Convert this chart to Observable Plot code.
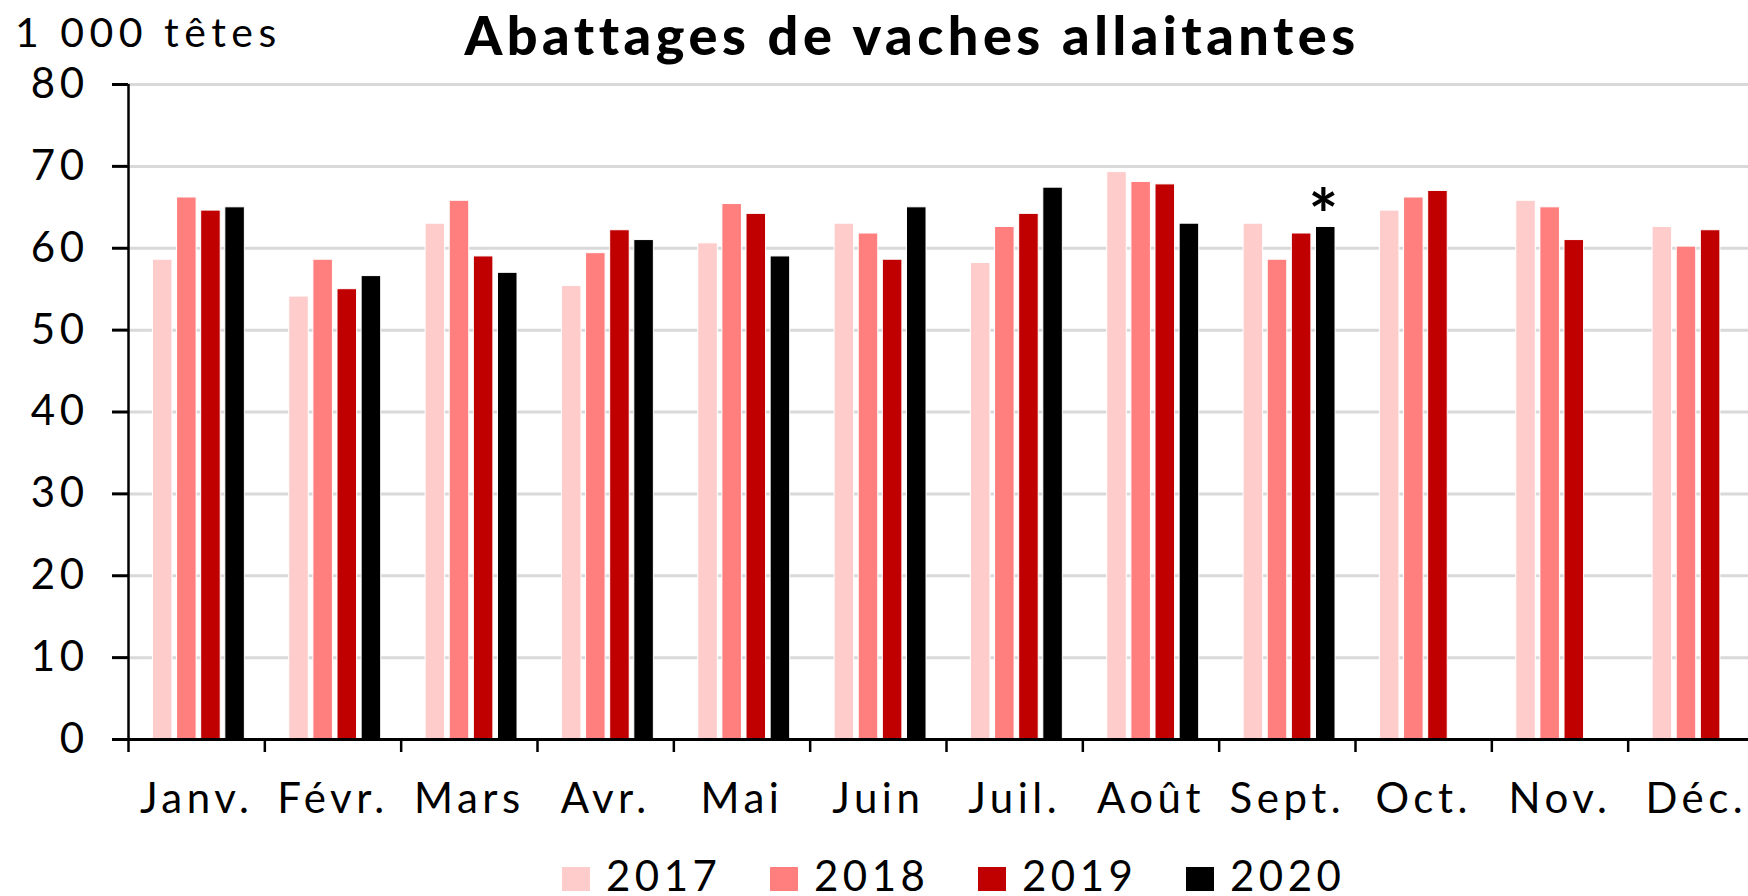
<!DOCTYPE html>
<html><head><meta charset="utf-8">
<script src="https://cdn.jsdelivr.net/npm/d3@7"></script>
<script src="https://cdn.jsdelivr.net/npm/@observablehq/plot@0.6"></script>
<style>
html,body{margin:0;padding:0;background:#fff;overflow:hidden;}
#chart svg text{letter-spacing:4.5px;}
#chart svg text.title{letter-spacing:4.5px;}
</style></head><body><div id="chart"></div>
<script>
// ---- data ----
const months = ["Janv.","Févr.","Mars","Avr.","Mai","Juin","Juil.","Août","Sept.","Oct.","Nov.","Déc."];
const years = ["2017","2018","2019","2020"];
const v2017 = [58.6,54.1,63.0,55.4,60.6,63.0,58.2,69.3,63.0,64.6,65.8,62.6];
const v2018 = [66.2,58.6,65.8,59.4,65.4,61.8,62.6,68.1,58.6,66.2,65.0,60.2];
const v2019 = [64.6,55.0,59.0,62.2,64.2,58.6,64.2,67.8,61.8,67.0,61.0,62.2];
const v2020 = [65.0,56.6,57.0,61.0,59.0,65.0,67.4,63.0,62.6];
const yTicks = [0,10,20,30,40,50,60,70,80];
const colors = ["#FFCCCC","#FF7F7F","#C00000","#000000"];
const titleText = "Abattages de vaches allaitantes";
const unitText = "1 000 têtes";
const noteText = "*";

const series = [v2017, v2018, v2019, v2020];
const rows = months.flatMap((m, i) => years.map((y, j) => ({month: m, mi: i, year: y, value: series[j][i]})))
  .filter(d => d.value != null);
const lastYear = years[years.length - 1];
const noteRows = rows.filter(d => d.year === lastYear).slice(-1);

// sub-band within each month
const sub = d3.scaleBand().domain(years).range([0, 1]).paddingInner(0.19).paddingOuter(0.92).align(0.55);
const bx1 = d => d.mi + sub(d.year);
const bx2 = d => d.mi + sub(d.year) + sub.bandwidth();
const bxc = d => d.mi + sub(d.year) + sub.bandwidth() / 2;

const font = "Lato, 'Open Sans', sans-serif";

const chart = Plot.plot({
  width: 1748, height: 896,
  marginLeft: 128, marginRight: -16, marginTop: 84, marginBottom: 157,
  style: {fontFamily: font, fontSize: "40px", color: "black", background: "white", overflow: "hidden"},
  x: {type: "linear", domain: [0, months.length]},
  y: {domain: [0, 80]},
  color: {domain: years, range: colors},
  marks: [
    Plot.gridY(yTicks, {stroke: "#d9d9d9", strokeOpacity: 1, strokeWidth: 3}),
    Plot.rectY(rows, {x1: bx1, x2: bx2, y: "value", fill: "year", stroke: "white", strokeWidth: 1}),
    Plot.ruleY([0], {stroke: "black", strokeWidth: 3}),
    Plot.ruleX([0], {stroke: "black", strokeWidth: 2.5}),
    Plot.axisY({ticks: yTicks, tickSize: 16, tickPadding: 24, fontSize: 42, stroke: "black", strokeWidth: 3, label: null}),
    Plot.axisX({ticks: d3.range(months.length + 1), tickSize: 13, tickFormat: () => "", stroke: "black", strokeWidth: 2.5, label: null}),
    Plot.axisX({ticks: months.map((m, i) => i + 0.5), tickSize: 0, tickPadding: 44, tickFormat: d => months[Math.floor(d)], fontSize: 42, label: null}),
    Plot.text(noteRows, {x: bxc, y: "value", text: () => noteText, fontSize: 70, fontWeight: "bold", lineAnchor: "bottom", dy: 14})
  ]
});

const svg = d3.select(chart);
svg.append("text").attr("x", 15).attr("y", 47).attr("text-anchor", "start")
  .attr("font-size", 41).attr("font-family", font).style("letter-spacing", "5.5px").text(unitText);
svg.append("text").attr("class", "title").attr("x", 912).attr("y", 55).attr("text-anchor", "middle")
  .attr("font-size", 54).attr("font-weight", 900).attr("font-family", font).text(titleText);

const leg = svg.append("g").attr("font-family", font).attr("font-size", 42).attr("text-anchor", "start");
years.forEach((y, i) => {
  const x0 = 562 + i * 208;
  leg.append("rect").attr("x", x0).attr("y", 867).attr("width", 28).attr("height", 24).attr("fill", colors[i]);
  leg.append("text").attr("x", x0 + 44).attr("y", 891).attr("text-anchor", "start").text(y);
});

document.getElementById("chart").appendChild(chart);
</script></body></html>
